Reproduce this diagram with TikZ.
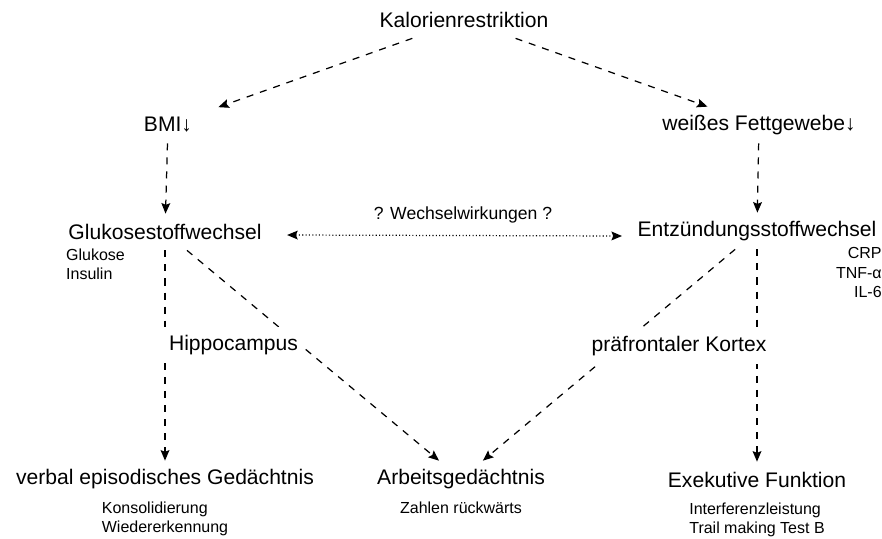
\documentclass[tikz,border=0pt]{standalone}
\usepackage{fontspec}
\setmainfont{Liberation Sans}
\usetikzlibrary{arrows.meta,positioning}
\newcommand{\grossschrift}{\fontsize{12}{14}\selectfont}
\newcommand{\mittelschrift}{\fontsize{10}{12}\selectfont}
\newcommand{\kleinschrift}{\fontsize{9.1}{11}\selectfont}
\tikzset{
  lbl/.style={font=\grossschrift,inner sep=0pt,inner xsep=3pt,minimum height=0.72cm},
  sublbl/.style={font=\kleinschrift,inner sep=0pt},
  dpfeil/.style={line width=0.7pt,dash pattern=on 4pt off 4pt,-{Stealth[length=6pt,width=5pt,inset=1pt]}},
  wpfeil/.style={line width=0.7pt,dash pattern=on 0.6pt off 1.3pt,{Stealth[length=6pt,width=5pt,inset=1pt]}-{Stealth[length=6pt,width=5pt,inset=1pt]}},
}

\begin{document}
\begin{tikzpicture}
\useasboundingbox (0,0) rectangle (17.64,-10.76);
% Ebenen
\node[lbl] (kal) at (9.28,-0.40) {Kalorienrestriktion};
\node[lbl,minimum width=2cm] (bmi) at (3.36,-2.50) {BMI↓};
\node[lbl] (weiss) at (15.18,-2.50) {weißes Fettgewebe↓};
\node[lbl] (glu) at (3.30,-4.64) {Glukosestoffwechsel};
\node[lbl] (entz) at (15.14,-4.62) {Entzündungsstoffwechsel};
\node[lbl] (verbal) at (3.30,-9.58) {verbal episodisches Gedächtnis};
\node[lbl] (arbeit) at (9.22,-9.58) {Arbeitsgedächtnis};
\node[lbl] (exek) at (15.14,-9.60) {Exekutive Funktion};
% Marker
\node[sublbl,align=left,anchor=north west] (glusub) at ([xshift=0.06cm,yshift=0.04cm]glu.south west) {Glukose\\Insulin};
\node[sublbl,align=right,anchor=north east] (entzsub) at ([yshift=0.04cm]entz.south east) {CRP\\TNF-α\\IL-6};
\node[sublbl,align=left,below=0.08cm of verbal] (verbalsub) {Konsolidierung\\Wiedererkennung};
\node[sublbl,align=left,below=0.08cm of arbeit] (arbeitsub) {Zahlen rückwärts};
\node[sublbl,align=left,below=0.08cm of exek] (exeksub) {Interferenzleistung\\Trail making Test B};
% Pfeile
\draw[dpfeil] (kal) -- (bmi);
\draw[dpfeil] (kal) -- (weiss);
\draw[dpfeil] (bmi) -- (glu);
\draw[dpfeil] (weiss) -- (entz);
\draw[dpfeil] (glu) -- (verbal);
\draw[dpfeil] (glu) -- (arbeit);
\draw[dpfeil] (entz) -- (arbeit);
\draw[dpfeil] (entz) -- (exek);
\draw[wpfeil] ([xshift=0.4cm,yshift=-0.06cm]glu.east) -- ([xshift=-0.2cm,yshift=-0.1cm]entz.west);
\node[font=\mittelschrift] (wechsel) at (9.26,-4.30) {? Wechselwirkungen ?};
% Hirnregionen
\node[lbl,fill=white] (hippo) at (4.67,-6.90) {Hippocampus};
\node[lbl,fill=white] (pfk) at (13.58,-6.92) {präfrontaler Kortex};
\end{tikzpicture}
\end{document}
